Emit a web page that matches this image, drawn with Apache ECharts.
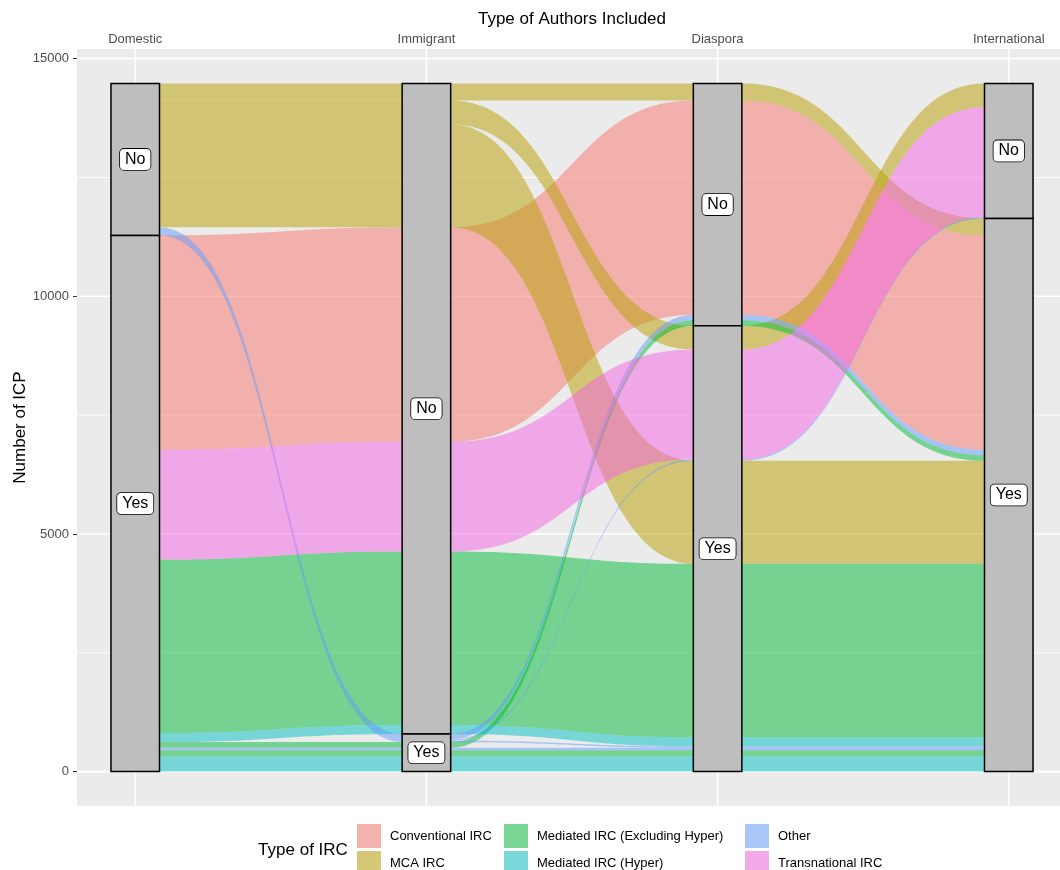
<!DOCTYPE html>
<html><head><meta charset="utf-8">
<script src="https://cdn.jsdelivr.net/npm/echarts@6.0.0/dist/echarts.min.js"></script>
<style>html,body{margin:0;padding:0;background:#fff}#chart{width:1060px;height:870px}</style>
</head><body><div id="chart"></div>
<script>
// ---------- data ----------
const axisNames = ['Domestic', 'Immigrant', 'Diaspora', 'International'];
const strataLevels = ['No', 'Yes']; // stacked top to bottom
const ircTypes = ['Conventional IRC', 'MCA IRC', 'Mediated IRC (Excluding Hyper)', 'Mediated IRC (Hyper)', 'Other', 'Transnational IRC'];
const ircColors = ['#F8766D', '#B79F00', '#00BA38', '#00BFC4', '#619CFF', '#F564E3'];
const yTicks = [0, 5000, 10000, 15000];
const yMinorTicks = [2500, 7500, 12500];

// one entry per alluvium (type of IRC and answer at each axis)
const alluviumType = ['MCA IRC', 'MCA IRC', 'MCA IRC', 'Other', 'Other', 'Other', 'Conventional IRC', 'Transnational IRC',
  'Mediated IRC (Excluding Hyper)', 'Mediated IRC (Hyper)', 'Mediated IRC (Excluding Hyper)', 'Other',
  'Mediated IRC (Excluding Hyper)', 'Mediated IRC (Hyper)'];
const domestic =      ['No', 'No', 'No', 'No', 'No', 'No', 'Yes', 'Yes', 'Yes', 'Yes', 'Yes', 'Yes', 'Yes', 'Yes'];
const immigrant =     ['No', 'No', 'No', 'Yes', 'Yes', 'Yes', 'No', 'No', 'No', 'No', 'Yes', 'Yes', 'Yes', 'Yes'];
const diaspora =      ['No', 'Yes', 'Yes', 'No', 'Yes', 'Yes', 'No', 'Yes', 'Yes', 'Yes', 'No', 'Yes', 'Yes', 'Yes'];
const international = ['Yes', 'No', 'Yes', 'Yes', 'No', 'Yes', 'Yes', 'No', 'Yes', 'Yes', 'Yes', 'Yes', 'Yes', 'Yes'];
const counts =        [360, 500, 2168, 110, 30, 30, 4510, 2310, 3650, 190, 120, 50, 130, 320];

// ---------- layout (alluvial stacking, zigzag lode guidance) ----------
const answers = [domestic, immigrant, diaspora, international];
const nAx = axisNames.length;
const total = counts.reduce((s, v) => s + v, 0);
const halfW = 1 / 12;

function zigzag(i, m) {
  const ord = [i];
  const leftFirst = i <= m - 1 - i;
  for (let d = 1; ord.length < m; d++) {
    const c = leftFirst ? [i - d, i + d] : [i + d, i - d];
    c.forEach(k => { if (k >= 0 && k < m) ord.push(k); });
  }
  return ord;
}
const lodes = axisNames.map((_, a) => {
  const ord = zigzag(a, nAx);
  const idx = counts.map((_, k) => k).sort((p, q) => {
    for (const b of ord) {
      const d = strataLevels.indexOf(answers[b][p]) - strataLevels.indexOf(answers[b][q]);
      if (d) return d;
    }
    return p - q;
  });
  let y = total; const pos = [];
  idx.forEach(k => { pos[k] = [y, y - counts[k]]; y -= counts[k]; });
  return pos;
});
const strata = [];
axisNames.forEach((_, a) => {
  let y = total;
  strataLevels.forEach(lv => {
    const s = counts.reduce((acc, c, k) => acc + (answers[a][k] === lv ? c : 0), 0);
    if (s > 0) strata.push({ axis: a, level: lv, top: y, bottom: y - s });
    y -= s;
  });
});

function rgba(hex, a) {
  const n = parseInt(hex.slice(1), 16);
  return 'rgba(' + (n >> 16) + ',' + ((n >> 8) & 255) + ',' + (n & 255) + ',' + a + ')';
}
function blend(hex) { // alpha 0.5 over light grey, for legend keys
  const n = parseInt(hex.slice(1), 16);
  const c = [n >> 16, (n >> 8) & 255, n & 255].map(v => Math.round((v + 240) / 2));
  return 'rgb(' + c.join(',') + ')';
}

function edge(k, side, api) {
  const pts = []; let prev = null;
  for (let a = 0; a < nAx; a++) {
    const y = lodes[a][k][side];
    const L = api.coord([a + 1 - halfW, y]);
    const R = api.coord([a + 1 + halfW, y]);
    if (prev) {
      const dx = (L[0] - prev[0]) / 2;
      const p1 = [prev[0] + dx, prev[1]], p2 = [L[0] - dx, L[1]];
      for (let s = 1; s <= 48; s++) {
        const t = s / 48, u = 1 - t;
        pts.push([
          u * u * u * prev[0] + 3 * u * u * t * p1[0] + 3 * u * t * t * p2[0] + t * t * t * L[0],
          u * u * u * prev[1] + 3 * u * u * t * p1[1] + 3 * u * t * t * p2[1] + t * t * t * L[1]
        ]);
      }
    } else pts.push(L);
    pts.push(R); prev = R;
  }
  return pts;
}

const FONT = '"Liberation Sans", Arial, Helvetica, sans-serif';
const series = [];

// panel grid lines
const gridLines = [];
yMinorTicks.forEach(v => gridLines.push({ dir: 'h', v: v, w: 0.8 }));
yTicks.forEach(v => gridLines.push({ dir: 'h', v: v, w: 1.6 }));
axisNames.forEach((_, a) => gridLines.push({ dir: 'v', v: a + 1, w: 1.6 }));
series.push({
  type: 'custom', silent: true, z: 1, animation: false,
  data: gridLines.map(g => [g.dir === 'v' ? g.v : 1, g.dir === 'h' ? g.v : 0]),
  renderItem: function (params, api) {
    const g = gridLines[params.dataIndex];
    const cs = params.coordSys;
    let shape;
    if (g.dir === 'h') { const p = api.coord([1, g.v]); shape = { x1: cs.x, y1: p[1], x2: cs.x + cs.width, y2: p[1] }; }
    else { const p = api.coord([g.v, 0]); shape = { x1: p[0], y1: cs.y, x2: p[0], y2: cs.y + cs.height }; }
    return { type: 'line', shape: shape, style: { stroke: '#FFFFFF', lineWidth: g.w } };
  }
});

// flows, one series per IRC type
ircTypes.forEach((t, ti) => {
  const members = counts.map((_, k) => k).filter(k => alluviumType[k] === t);
  series.push({
    name: t, type: 'custom', silent: true, z: 2, animation: false,
    itemStyle: { color: blend(ircColors[ti]) },
    data: members.map(k => [1, lodes[0][k][0]]),
    renderItem: function (params, api) {
      const k = members[params.dataIndex];
      const pts = edge(k, 0, api).concat(edge(k, 1, api).reverse());
      return { type: 'polygon', shape: { points: pts }, style: { fill: rgba(ircColors[ti], 0.5) } };
    }
  });
});

// strata with labels
series.push({
  type: 'custom', silent: true, z: 3, animation: false,
  data: strata.map(s => [s.axis + 1, s.top, s.bottom]),
  renderItem: function (params, api) {
    const s = strata[params.dataIndex];
    const x = s.axis + 1;
    const p1 = api.coord([x - halfW, s.top]);
    const p2 = api.coord([x + halfW, s.bottom]);
    const c = api.coord([x, (s.top + s.bottom) / 2]);
    return {
      type: 'group', children: [
        { type: 'rect', shape: { x: p1[0], y: p1[1], width: p2[0] - p1[0], height: p2[1] - p1[1] },
          style: { fill: '#BEBEBE', stroke: '#000000', lineWidth: 1.5 } },
        { type: 'text', x: c[0], y: c[1], z2: 10,
          style: { text: s.level, x: 0, y: 0, align: 'center', verticalAlign: 'middle', fontSize: 16, fontFamily: FONT,
            fill: '#000', backgroundColor: '#FFFFFF', borderColor: '#000000', borderWidth: 0.8, borderRadius: 4, padding: [3, 5, 2, 5] } }
      ]
    };
  }
});

// legend: 3 columns x 2 rows, one legend box per key
const legendLeft = [357, 504, 745];
const legendTop = [824, 851];
const legends = ircTypes.map((t, i) => ({
  orient: 'vertical', left: legendLeft[Math.floor(i / 2)], top: legendTop[i % 2], padding: 0,
  itemWidth: 24, itemHeight: 24, icon: 'rect', selectedMode: false,
  textStyle: { fontSize: 13, color: '#000', fontFamily: FONT, padding: [0, 0, 0, 4] },
  data: [{ name: t, itemStyle: { color: blend(ircColors[i]) } }]
}));

const option = {
  animation: false,
  backgroundColor: '#FFFFFF',
  textStyle: { fontFamily: FONT },
  grid: { left: 77, right: -7, top: 49, bottom: 64, show: true, backgroundColor: '#EBEBEB', borderWidth: 0,
    containLabel: false, outerBoundsMode: 'none' },
  xAxis: {
    type: 'value', position: 'top', min: 1 - 0.2, max: nAx + 0.2,
    axisLine: { show: false },
    axisTick: { show: true, length: 4, lineStyle: { color: '#333333', width: 1 }, customValues: axisNames.map((_, a) => a + 1) },
    axisLabel: { show: true, margin: 3, fontSize: 13, color: '#4D4D4D', fontFamily: FONT, hideOverlap: false,
      customValues: axisNames.map((_, a) => a + 1), formatter: v => axisNames[Math.round(v) - 1] || '' },
    splitLine: { show: false }
  },
  yAxis: {
    type: 'value', min: -0.05 * total, max: 1.05 * total,
    name: 'Number of ICP', nameLocation: 'middle', nameRotate: 90, nameGap: 48, nameMoveOverlap: false,
    nameTextStyle: { fontSize: 17, color: '#000', fontFamily: FONT },
    axisLine: { show: false },
    axisTick: { show: true, length: 4, lineStyle: { color: '#333333', width: 1 }, customValues: yTicks },
    axisLabel: { show: true, margin: 8, fontSize: 13, color: '#4D4D4D', fontFamily: FONT, customValues: yTicks,
      formatter: v => String(Math.round(v)) },
    splitLine: { show: false }
  },
  legend: legends,
  graphic: [
    { type: 'text', x: 572, y: 19, style: { text: 'Type of Authors Included', x: 0, y: 0, align: 'center', verticalAlign: 'middle', fontSize: 17, fill: '#000', fontFamily: FONT } },
    { type: 'text', x: 303, y: 850, style: { text: 'Type of IRC', x: 0, y: 0, align: 'center', verticalAlign: 'middle', fontSize: 17, fill: '#000', fontFamily: FONT } }
  ],
  series: series
};

const chart = echarts.init(document.getElementById('chart'), null, { renderer: 'canvas' });
chart.setOption(option);
</script></body></html>
